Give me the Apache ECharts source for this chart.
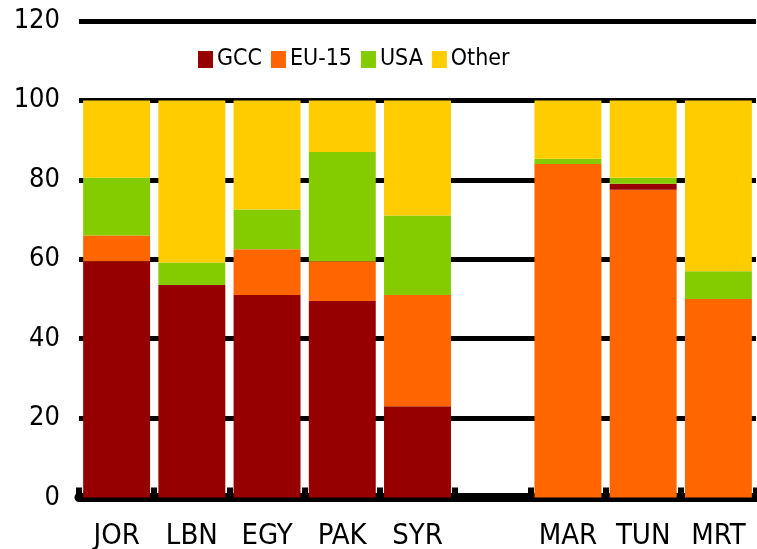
<!DOCTYPE html>
<html>
<head>
<meta charset="utf-8">
<script src="https://cdn.jsdelivr.net/npm/echarts@6/dist/echarts.min.js"></script>
<style>
html,body{margin:0;padding:0;background:#fff;}
#chart{width:757px;height:549px;}
</style>
</head>
<body>
<div id="chart"></div>
<script>
var categories = ['JOR','LBN','EGY','PAK','SYR','','MAR','TUN','MRT'];
var gcc      = [59.5, 53.5, 51, 49.5, 23, null, 0, 0, 0];
var eu15     = [6.5, 0, 11.5, 10, 28, null, 84, 77.5, 50];
var gccUpper = [0, 0, 0, 0, 0, null, 0, 1.5, 0];
var usa      = [14.5, 5.7, 10, 27.5, 20, null, 1.3, 1.5, 7];
var other    = [19.5, 40.8, 27.5, 13, 29, null, 14.7, 19.5, 43];
var legendNames = ['GCC','EU-15','USA','Other'];
var yTicks = [0, 20, 40, 60, 80, 100, 120];

var FONT = "'DejaVu Sans Condensed', 'Liberation Sans', sans-serif";
var colors = {GCC:'#960000','EU-15':'#FF6600',USA:'#84CC00',Other:'#FFCC00'};

function bar(name, data){
  return {
    name: name, type: 'bar', stack: 'total', data: data,
    barCategoryGap: '11%',
    itemStyle: {color: colors[name]},
    emphasis: {disabled: true}
  };
}

var chart = echarts.init(document.getElementById('chart'), null, {renderer:'canvas'});
chart.setOption({
  animation: false,
  backgroundColor: '#fff',
  grid: {left: 79, right: 1, top: 21, bottom: 51.5, containLabel: false, outerBoundsMode: 'none'},
  legend: {
    data: legendNames,
    left: 193, top: 43,
    itemWidth: 15, itemHeight: 17, itemGap: 9,
    icon: 'rect',
    textStyle: {fontFamily: FONT, fontSize: 23, color: '#000', padding: [0,0,0,-1]}
  },
  xAxis: {
    type: 'category', data: categories,
    axisLine: {show: true, lineStyle: {color: '#000', width: 9}},
    axisTick: {show: true, inside: true, length: 10, lineStyle: {color: '#000', width: 6}},
    axisLabel: {fontFamily: FONT, fontSize: 29, color: '#000', margin: 24, interval: 0}
  },
  yAxis: {
    type: 'value', min: yTicks[0], max: yTicks[yTicks.length-1], interval: 20,
    axisLine: {show: false}, axisTick: {show: false},
    axisLabel: {fontFamily: FONT, fontSize: 27, color: '#000', margin: 19},
    splitLine: {show: true, lineStyle: {color: '#000', width: 5, type: 'solid'}}
  },
  series: [
    bar('GCC', gcc),
    bar('EU-15', eu15),
    bar('GCC', gccUpper),
    bar('USA', usa),
    bar('Other', other)
  ]
});
</script>
</body>
</html>
